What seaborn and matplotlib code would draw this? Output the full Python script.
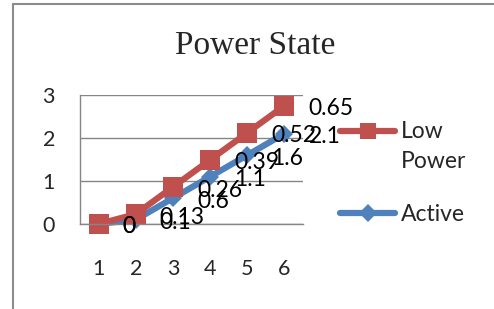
import numpy as np
import pandas as pd
import seaborn as sns
import matplotlib.pyplot as plt
from matplotlib.lines import Line2D

# Power State data (stacked line chart)
steps = [1, 2, 3, 4, 5, 6]
active = [0, 0.1, 0.6, 1.1, 1.6, 2.1]
low_power = [0, 0.13, 0.26, 0.39, 0.52, 0.65]

sns.set_theme(style="white")
plt.rcParams["font.family"] = ["Lato", "DejaVu Sans"]

# low power sits on top of active
stacked_low = np.array(active) + np.array(low_power)

df = pd.DataFrame({
    "Step": steps * 2,
    "Value": list(active) + list(stacked_low),
    "Label": active + low_power,
    "Series": ["Active"] * len(steps) + ["Low Power"] * len(steps),
})

colors = {"Active": "#4F81BD", "Low Power": "#C0504D"}
marker_map = {"Active": "D", "Low Power": "s"}
marker_size = {"Active": 9.5, "Low Power": 14.5}

fig = plt.figure(figsize=(4.94, 3.09), dpi=100)
ax = fig.add_axes([0.1619, 0.2751, 0.4514, 0.4175])

sns.lineplot(data=df, x="Step", y="Value", hue="Series", style="Series",
             hue_order=["Active", "Low Power"], style_order=["Active", "Low Power"],
             palette=colors, markers=marker_map, dashes=False,
             linewidth=4.5, markeredgewidth=0, ax=ax, legend=False)

# fix marker sizes per series
for line in ax.lines:
    for name, col in colors.items():
        if line.get_color().lower() == col.lower():
            line.set_markersize(marker_size[name])
    line.set_clip_on(False)

# data labels to the right of each point
for _, row in df.iterrows():
    ax.annotate(f"{row['Label']:g}", (row["Step"], row["Value"]),
                xytext=(24, -3), textcoords="offset pixels",
                ha="left", va="center", fontsize=16.5, color="black")

ax.set_xlim(0.5, 6.5)
ax.set_ylim(0, 3)
ax.set_xticks(steps)
ax.set_yticks([0, 1, 2, 3])
ax.set_xlabel("")
ax.set_ylabel("")
ax.tick_params(axis="x", length=0, pad=25, labelsize=15.5)
ax.tick_params(axis="y", length=0, pad=18, labelsize=15.5)
ax.grid(axis="y", color="#868686", linewidth=1)
ax.grid(axis="x", visible=False)
for side in ["top", "right"]:
    ax.spines[side].set_visible(False)
for side in ["left", "bottom"]:
    ax.spines[side].set_color("#868686")
    ax.spines[side].set_linewidth(1)

# title
fig.text(255 / 494, 1 - 46 / 309, "Power State", ha="center", va="center",
         fontsize=24, family=["Liberation Serif", "DejaVu Serif"])

# legend
handles = [
    Line2D([], [], color=colors["Low Power"], marker="s", markersize=12,
           linewidth=4.5, markeredgewidth=0),
    Line2D([], [], color=colors["Active"], marker="D", markersize=9,
           linewidth=4.5, markeredgewidth=0),
]
leg = fig.legend(handles, ["Low\nPower", "Active"], loc="upper left",
                 bbox_to_anchor=(340 / 494, 1 - 121 / 309), frameon=False,
                 fontsize=16.5, handlelength=2.4, handletextpad=0.25,
                 labelspacing=1.4, borderpad=0, borderaxespad=0)
for t in leg.get_texts():
    t.set_linespacing(1.5)
# Excel puts the marker next to the first line of a wrapped label
first = leg.legend_handles[0]
first.set_ydata(np.asarray(first.get_ydata()) + 11)

# outer chart border (left and top edges)
fig.add_artist(Line2D([12.5 / 494, 12.5 / 494], [0, 1 - 4 / 309],
                      color="#8c8c8c", linewidth=1.5, transform=fig.transFigure))
fig.add_artist(Line2D([12.5 / 494, 1], [1 - 4 / 309, 1 - 4 / 309],
                      color="#8c8c8c", linewidth=1.5, transform=fig.transFigure))

fig.savefig("out.png", dpi=100)
